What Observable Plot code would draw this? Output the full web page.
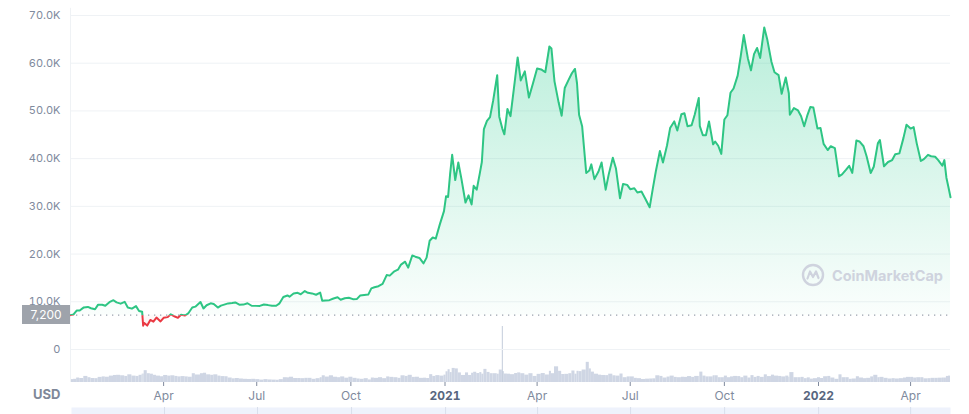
<!DOCTYPE html>
<html><head><meta charset="utf-8">
<script src="https://cdn.jsdelivr.net/npm/d3@7"></script>
<script src="https://cdn.jsdelivr.net/npm/@observablehq/plot@0.6"></script>
<style>
html,body{margin:0;padding:0;background:#fff;}
#wrap{position:relative;width:969px;height:414px;overflow:hidden;font-family:Inter,"Noto Sans",sans-serif;}
#wrap svg{position:absolute;left:0;top:0;}
.ov{position:absolute;}
</style></head><body><div id="wrap"></div>
<script>
// ---- data ----
const dates = [
"2020-01-01","2020-01-04","2020-01-07","2020-01-10","2020-01-14","2020-01-18","2020-01-21","2020-01-25","2020-01-28",
"2020-02-01","2020-02-04","2020-02-08","2020-02-12","2020-02-15","2020-02-19","2020-02-23","2020-02-26",
"2020-03-01","2020-03-05","2020-03-08","2020-03-11","2020-03-12","2020-03-13","2020-03-16","2020-03-19","2020-03-22","2020-03-25","2020-03-29",
"2020-04-01","2020-04-05","2020-04-08","2020-04-12","2020-04-15","2020-04-18","2020-04-22","2020-04-25","2020-04-29",
"2020-05-02","2020-05-07","2020-05-10","2020-05-13","2020-05-17","2020-05-20","2020-05-24","2020-05-27","2020-05-31",
"2020-06-03","2020-06-07","2020-06-10","2020-06-14","2020-06-18","2020-06-22","2020-06-26","2020-06-30",
"2020-07-04","2020-07-08","2020-07-12","2020-07-16","2020-07-20","2020-07-23","2020-07-27","2020-07-31",
"2020-08-02","2020-08-06","2020-08-10","2020-08-13","2020-08-17","2020-08-20","2020-08-24","2020-08-28",
"2020-09-01","2020-09-03","2020-09-06","2020-09-10","2020-09-14","2020-09-18","2020-09-21","2020-09-25","2020-09-29",
"2020-10-03","2020-10-07","2020-10-10","2020-10-14","2020-10-18","2020-10-21","2020-10-24","2020-10-28",
"2020-11-01","2020-11-05","2020-11-08","2020-11-12","2020-11-16","2020-11-19","2020-11-23","2020-11-26","2020-11-30",
"2020-12-03","2020-12-07","2020-12-11","2020-12-14","2020-12-17","2020-12-20","2020-12-23","2020-12-27","2020-12-31",
"2021-01-02","2021-01-04","2021-01-06","2021-01-08","2021-01-11","2021-01-14","2021-01-17","2021-01-21","2021-01-24","2021-01-27","2021-01-29",
"2021-02-01","2021-02-04","2021-02-06","2021-02-08","2021-02-11","2021-02-14","2021-02-17","2021-02-21","2021-02-23","2021-02-26","2021-02-28",
"2021-03-03","2021-03-06","2021-03-10","2021-03-13","2021-03-16","2021-03-20","2021-03-24","2021-03-28",
"2021-04-01","2021-04-05","2021-04-09","2021-04-13","2021-04-15","2021-04-18","2021-04-22","2021-04-25","2021-04-28",
"2021-05-02","2021-05-05","2021-05-08","2021-05-10","2021-05-12","2021-05-15","2021-05-19","2021-05-22","2021-05-24","2021-05-27","2021-05-31",
"2021-06-03","2021-06-07","2021-06-10","2021-06-14","2021-06-17","2021-06-21","2021-06-24","2021-06-28",
"2021-07-01","2021-07-05","2021-07-08","2021-07-12","2021-07-16","2021-07-20","2021-07-23","2021-07-26","2021-07-30",
"2021-08-02","2021-08-06","2021-08-09","2021-08-13","2021-08-16","2021-08-20","2021-08-23","2021-08-26","2021-08-30",
"2021-09-02","2021-09-06","2021-09-07","2021-09-10","2021-09-13","2021-09-16","2021-09-20","2021-09-22","2021-09-25","2021-09-28",
"2021-10-01","2021-10-04","2021-10-07","2021-10-10","2021-10-14","2021-10-17","2021-10-20","2021-10-24","2021-10-27","2021-10-30",
"2021-11-02","2021-11-05","2021-11-09","2021-11-12","2021-11-16","2021-11-19","2021-11-23","2021-11-26","2021-11-30",
"2021-12-03","2021-12-04","2021-12-08","2021-12-12","2021-12-15","2021-12-18","2021-12-21","2021-12-24","2021-12-27","2021-12-31",
"2022-01-03","2022-01-06","2022-01-10","2022-01-13","2022-01-17","2022-01-21","2022-01-24","2022-01-28","2022-01-31",
"2022-02-03","2022-02-07","2022-02-10","2022-02-14","2022-02-17","2022-02-21","2022-02-24","2022-02-28",
"2022-03-02","2022-03-06","2022-03-10","2022-03-14","2022-03-17","2022-03-21","2022-03-25","2022-03-28",
"2022-04-01","2022-04-04","2022-04-07","2022-04-11","2022-04-14","2022-04-18","2022-04-21","2022-04-25","2022-04-28",
"2022-05-02","2022-05-04","2022-05-06","2022-05-08","2022-05-10"
];
const prices = [
7200,7350,8160,8170,8820,8920,8650,8440,9390,
9380,9170,9910,10330,9880,9610,9980,8790,
8560,9080,8070,7930,4970,5560,5010,6190,5830,6690,5880,
6640,6780,7370,6910,6640,7260,7130,7550,8800,
8980,9950,8600,9270,9670,9520,8790,9200,9460,
9660,9760,9870,9390,9410,9690,9170,9140,
9130,9430,9300,9150,9160,9600,11000,11320,
11060,11750,11880,11580,12250,11880,11750,11470,
11920,10200,10280,10340,10680,10930,10420,10730,10840,
10550,10600,11300,11430,11500,12800,13030,13270,
13740,15590,15480,16300,16720,17800,18400,17150,19700,
19450,19190,18050,19250,22800,23470,23240,26270,29000,
32100,31970,36800,40800,35500,39200,35800,30800,32300,30400,34300,
33500,36900,39300,46200,47900,48700,52100,57500,48800,46300,45100,
50400,48900,55900,61200,56400,58300,52800,55800,
58900,58700,58100,63500,63100,56200,51800,49000,54800,
56600,57900,58800,55800,49200,46800,37000,37500,38800,35700,37300,
39200,33500,36700,40200,38000,31700,34700,34500,
33600,33800,32900,33100,31500,29800,33600,37300,41600,
39200,42800,46400,47800,45900,49300,49500,46800,47000,
49200,52700,46800,44900,44900,47800,43000,43600,42700,41000,
48200,49100,53800,54700,57400,61500,65900,61000,58500,61900,
63200,61100,67500,64900,60300,58100,57500,53600,57000,
53700,49200,50600,50100,48900,46800,49000,50800,50700,46300,
46400,43100,41800,42600,42200,36300,36700,37700,38500,
37000,43800,43600,42600,40500,37000,38300,43200,
43900,38400,39300,39700,40900,41100,44300,47100,
46300,46600,43200,39500,39900,40800,40500,40400,39700,
38500,39700,36000,34000,31900
];
// 24h volume, billions USD
const volumes = [
18,20,28,25,38,30,25,24,32,
35,33,40,44,45,42,38,48,
40,38,45,52,53,74,55,52,45,40,36,
44,40,42,38,35,37,35,33,55,
47,55,58,48,45,48,40,37,36,
28,23,25,22,20,19,20,18,
15,18,16,15,14,18,30,29,
33,25,25,24,26,26,20,24,
30,42,34,42,33,30,35,27,33,
26,22,20,24,16,28,26,30,
24,35,32,30,26,42,38,45,32,
33,26,27,25,49,38,43,40,46,
67,80,62,88,85,60,44,60,44,58,64,
56,62,52,82,63,55,55,52,78,68,53,
52,49,56,60,55,46,55,38,
51,56,47,70,55,98,70,50,51,
55,72,52,70,68,78,126,85,65,52,46,
44,43,52,42,40,53,30,35,
35,26,24,19,21,22,23,42,38,
28,34,40,32,30,33,32,37,32,
38,38,65,40,35,35,42,42,30,30,
40,30,35,38,37,30,40,28,43,32,
38,32,48,37,46,40,38,35,40,
32,62,30,30,32,24,29,21,24,30,
25,36,38,28,20,48,30,30,20,
22,36,28,24,26,35,45,30,
32,26,22,24,22,24,28,32,
32,28,30,30,23,24,26,26,27,
28,28,38,40,55
];
const spikeDates = ["2021-02-26"];
const spikeVolumes = [350];
const xTicks = ["2020-04-01","2020-07-01","2020-10-01","2021-01-01","2021-04-01","2021-07-01","2021-10-01","2022-01-01","2022-04-01"];
const yTicks = [0,10000,20000,30000,40000,50000,60000,70000];

// ---- build ----
const parse = d3.utcParse("%Y-%m-%d");
const data = dates.map((d,i)=>({date:parse(d), price:prices[i], vol:volumes[i]}));
data.forEach((d,i)=>{ d.next = i < data.length-1 ? data[i+1].date : d.date; });
const spike = spikeDates.map((d,i)=>({date:parse(d), next:d3.utcDay.offset(parse(d),1), vol:spikeVolumes[i]}));
const base = prices[0];
const xDomain = [data[0].date, data[data.length-1].date];
const tickDates = xTicks.map(parse);
const W = 969, H = 414, ML = 70, MR = 19;
const wrap = document.getElementById("wrap");

const volPlot = Plot.plot({
  width: W, height: H, marginLeft: ML, marginRight: MR, marginTop: 326, marginBottom: 32,
  x: {type: "utc", domain: xDomain, axis: null},
  y: {domain: [0, 350], axis: null},
  style: {background: "transparent"},
  marks: [
    Plot.rectY(data, {x1: "date", x2: "next", y: "vol", fill: "#cfd6e4"}),
    Plot.rectY(spike, {x1: "date", x2: "next", y: "vol", fill: "#c5cddc"})
  ]
});
wrap.appendChild(volPlot);

const main = Plot.plot({
  width: W, height: H, marginLeft: ML, marginRight: MR, marginTop: 15, marginBottom: 32,
  style: {background: "transparent", color: "#808a9d", fontFamily: "Inter, 'Noto Sans', sans-serif", fontSize: "11px", overflow: "visible"},
  x: {type: "utc", domain: xDomain, ticks: tickDates, tickSize: 4, tickPadding: 5, label: null,
      tickFormat: d => d.getUTCMonth() === 0 ? String(d.getUTCFullYear()) : d3.utcFormat("%b")(d)},
  y: {domain: [-6920, 70000], ticks: yTicks, tickSize: 0, tickPadding: 10, label: null,
      tickFormat: d => d === 0 ? "0" : (d/1000).toFixed(1) + "K"},
  marks: [
    Plot.ruleY(yTicks, {stroke: "#eff2f5"}),
    Plot.ruleX([xDomain[0]], {y1: -6920, y2: 71500, stroke: "#eff2f5"}),
    Plot.areaY(data, {x: "date", y1: d => base, y2: d => Math.max(d.price, base), fill: "url(#gGreen)"}),
    Plot.areaY(data, {x: "date", y1: d => Math.min(d.price, base), y2: d => base, fill: "url(#gRed)"}),
    Plot.ruleY([base], {stroke: "#9aa1ad", strokeDasharray: "1.3,4.7", strokeWidth: 1.3}),
    Plot.lineY(data, {x: "date", y: "price", stroke: "#2ec584", strokeWidth: 2}),
    Plot.lineY(data, {x: "date", y: "price", stroke: "#ea3943", strokeWidth: 2})
  ]
});
wrap.appendChild(main);

const yb = main.scale("y").apply(base);
d3.select(main).insert("defs", ":first-child").html(
  `<linearGradient id="gGreen" x1="0" y1="0" x2="0" y2="1">
     <stop offset="0" stop-color="#16c784" stop-opacity="0.30"/>
     <stop offset="1" stop-color="#16c784" stop-opacity="0.02"/>
   </linearGradient>
   <linearGradient id="gRed" x1="0" y1="0" x2="0" y2="1">
     <stop offset="0" stop-color="#ea3943" stop-opacity="0.02"/>
     <stop offset="1" stop-color="#ea3943" stop-opacity="0.08"/>
   </linearGradient>
   <clipPath id="cAbove"><rect x="0" y="0" width="${W}" height="${yb}"/></clipPath>
   <clipPath id="cBelow"><rect x="0" y="${yb}" width="${W}" height="${H - yb}"/></clipPath>`);
const lineGroups = d3.select(main).selectAll('g[aria-label="line"]').nodes();
if (lineGroups.length >= 2) {
  d3.select(lineGroups[0]).attr("clip-path", "url(#cAbove)");
  d3.select(lineGroups[1]).attr("clip-path", "url(#cBelow)");
}
d3.select(main).selectAll("text").each(function() {
  const t = this.textContent;
  if (/^\d{4}$/.test(t)) d3.select(this).attr("font-weight", 700).attr("fill", "#58667e").attr("font-size", "12px");
  else if (/^[A-Z][a-z]{2}$/.test(t)) d3.select(this).attr("font-size", "12px");
});

// navigator strip
const nav = Plot.plot({
  width: W, height: 7, marginLeft: ML + 1, marginRight: MR, marginTop: 0, marginBottom: 0,
  x: {type: "utc", domain: xDomain, axis: null},
  style: {background: "transparent"},
  marks: [Plot.frame({fill: "#eef2fc", stroke: null}), Plot.ruleX(tickDates, {stroke: "#d9dfec"})]
});
nav.style.top = "407px";
wrap.appendChild(nav);

// overlays
const lab = document.createElement("div");
lab.className = "ov";
lab.textContent = d3.format(",")(base);
Object.assign(lab.style, {left: "22px", top: (yb - 10) + "px", width: "48px", height: "19px", lineHeight: "19px",
  background: "#9ea3ab", color: "#fff", fontSize: "12px", textAlign: "center"});
wrap.appendChild(lab);

const usd = document.createElement("div");
usd.className = "ov";
usd.textContent = "USD";
Object.assign(usd.style, {left: "33px", top: "386px", fontSize: "13px", fontWeight: "700", color: "#7f8899"});
wrap.appendChild(usd);

const wm = document.createElement("div");
wm.className = "ov";
Object.assign(wm.style, {left: "801px", top: "263px", display: "flex", alignItems: "center", gap: "7px", color: "#cfd3de", fontSize: "14.5px", fontWeight: "700"});
wm.innerHTML = `<svg width="24" height="24" viewBox="0 0 24 24" style="position:static"><circle cx="12" cy="12" r="10" fill="none" stroke="#cfd3de" stroke-width="2.4"/><path d="M6.5 15.5 L9 8.5 L12 14 L15 8.5 L17.5 15" fill="none" stroke="#cfd3de" stroke-width="2.2" stroke-linejoin="round" stroke-linecap="round"/></svg><span>CoinMarketCap</span>`;
wrap.appendChild(wm);
</script></body></html>
